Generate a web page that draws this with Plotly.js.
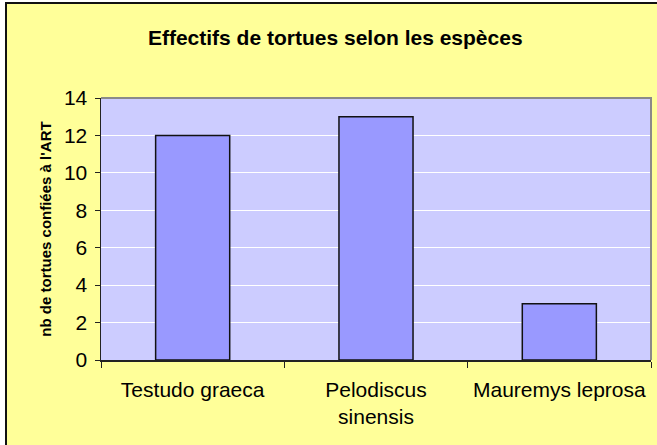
<!DOCTYPE html>
<html>
<head>
<meta charset="utf-8">
<script src="https://cdn.plot.ly/plotly-3.0.1.min.js"></script>
<style>
  html, body { margin: 0; padding: 0; background: #ffffff; width: 657px; height: 445px; overflow: hidden; }
  #chart { position: absolute; left: 5px; top: 2px; width: 650px; height: 441px;
           border-left: 2px solid #111; border-top: 2px solid #111; }
</style>
</head>
<body>
<div id="chart"></div>
<script>
const categories = ['Testudo graeca', 'Pelodiscus<br>sinensis', 'Mauremys leprosa'];
const values = [12, 13, 3];
const yTicks = [0, 2, 4, 6, 8, 10, 12, 14];

const font = 'Liberation Sans, Arial, sans-serif';

const data = [{
  type: 'bar',
  x: categories,
  y: values,
  marker: { color: '#9999FF', line: { color: '#111111', width: 1.5 } },
  hoverinfo: 'skip'
}];

const layout = {
  width: 650,
  height: 441,
  margin: { l: 94, r: 6, t: 94, b: 85 },
  paper_bgcolor: '#FFFF99',
  plot_bgcolor: '#CCCCFF',
  showlegend: false,
  bargap: 0.596,
  title: {
    text: 'Effectifs de tortues selon les espèces',
    font: { family: font, size: 21, color: '#000', weight: 'bold' },
    x: 0.505, xref: 'container', xanchor: 'center',
    y: 0.923, yref: 'container', yanchor: 'middle'
  },
  xaxis: {
    type: 'category',
    tickson: 'boundaries',
    ticks: 'outside', ticklen: 6, tickwidth: 1, tickcolor: '#222',
    ticklabelstandoff: 10,
    showgrid: false,
    showline: true, linecolor: '#222', linewidth: 1.5,
    tickfont: { family: font, size: 21, color: '#000' },
    fixedrange: true
  },
  yaxis: {
    range: [0, 14],
    tickvals: yTicks,
    ticks: 'outside', ticklen: 5, tickwidth: 1, tickcolor: '#222',
    ticklabelstandoff: 3,
    showgrid: true, gridcolor: '#FFFFFF', gridwidth: 1,
    zeroline: false,
    showline: true, linecolor: '#222', linewidth: 1.5,
    tickfont: { family: font, size: 21, color: '#000' },
    title: {
      text: "nb de tortues confiées à l'ART",
      font: { family: font, size: 15, color: '#000', weight: 'bold' },
      standoff: 8
    },
    fixedrange: true
  },
  shapes: [{
    type: 'path', xref: 'paper', yref: 'paper',
    path: 'M 0,1 L 1,1 L 1,0',
    line: { color: '#8a8a8a', width: 2 },
    layer: 'above'
  }]
};

Plotly.newPlot('chart', data, layout, { displayModeBar: false, staticPlot: true });
</script>
</body>
</html>
